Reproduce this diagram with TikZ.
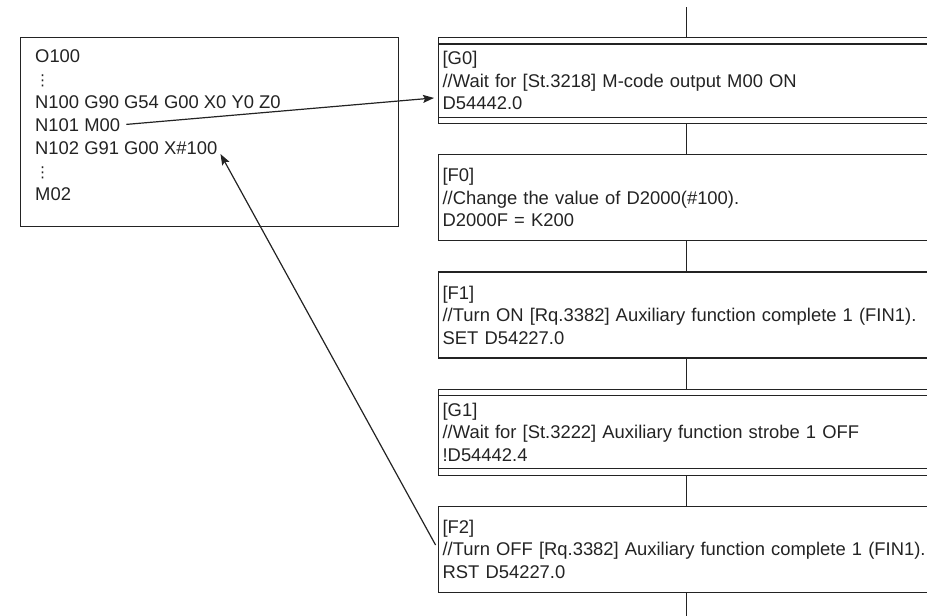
\documentclass[tikz,border=0pt]{standalone}
\usepackage{fontspec}
\setmainfont{Liberation Sans}
\newfontfamily\symfont{DejaVu Sans}
\usetikzlibrary{arrows.meta, positioning}
\definecolor{LineGrey}{RGB}{35, 35, 35}
\newcommand{\vdotsx}{{\symfont\fontsize{15}{15}\selectfont ⋮}}

\begin{document}
\begin{tikzpicture}[
        x = 1pt, y = -1pt,
        frame/.style = {draw = LineGrey, line width = 1.2pt},
        code/.style = {font = \fontsize{18.4}{22.5}\selectfont, inner xsep = 3pt, inner ysep = 1pt, anchor = base west, text = LineGrey},
        stepbox/.style = {frame, font = \fontsize{18.4}{22.5}\selectfont, text = LineGrey, align = left, text width = 488pt, inner xsep = 4pt, inner ysep = 0pt, minimum width = 496pt, minimum height = 86pt},
        arr/.style = {-{Stealth[length = 11pt, width = 8pt, inset = 2pt]}, line width = 1.2pt, LineGrey}
    ]
        \clip (0,0) rectangle (927,616);

        % NC program
        \node[frame, minimum width = 378pt, minimum height = 189pt, anchor = north west] (prog) at (20,37) {};
        \node[code] (o100) at (32,62) {O100};
        \node[code, below = 23pt of o100.base west, anchor = base west] (dots1) {\vdotsx};
        \node[code, below = 23pt of dots1.base west, anchor = base west] (n100) {N100 G90 G54 G00 X0 Y0 Z0};
        \node[code, below = 23pt of n100.base west, anchor = base west] (n101) {N101 M00};
        \node[code, below = 23pt of n101.base west, anchor = base west] (n102) {N102 G91 G00 X\#100};
        \node[code, below = 23pt of n102.base west, anchor = base west] (dots2) {\vdotsx};
        \node[code, below = 23pt of dots2.base west, anchor = base west] (m02) {M02};

        % steps
        \node[stepbox, anchor = north west] (g0) at (438,37) {
            [G0]
            \\
            //Wait for [St.3218] M-code output M00 ON
            \\
            D54442.0
        };
        \node[stepbox, below = 30pt of g0] (f0) {
            [F0]
            \\
            //Change the value of D2000(\#100).
            \\
            D2000F = K200
        };
        \node[stepbox, below = 30pt of f0] (f1) {
            [F1]
            \\
            \mbox{//Turn ON [Rq.3382] Auxiliary function complete 1 (FIN1).}
            \\
            SET D54227.0
        };
        \node[stepbox, below = 30pt of f1] (g1) {
            [G1]
            \\
            //Wait for [St.3222] Auxiliary function strobe 1 OFF
            \\
            !D54442.4
        };
        \node[stepbox, below = 30pt of g1] (f2) {
            [F2]
            \\
            \mbox{//Turn OFF [Rq.3382] Auxiliary function complete 1 (FIN1).}
            \\
            RST D54227.0
        };

        \foreach \s in {g0, g1} {
            \draw[frame] ([yshift = -7pt]\s.north west) -- ([yshift = -7pt]\s.north east);
            \draw[frame] ([yshift = 7pt]\s.south west) -- ([yshift = 7pt]\s.south east);
        }

        \coordinate (top) at ([yshift = 30pt]g0.north);
        \coordinate (bot) at ([yshift = -26pt]f2.south);
        \draw[frame] (top) -- (g0.north) (g0.south) -- (f0.north) (f0.south) -- (f1.north)
            (f1.south) -- (g1.north) (g1.south) -- (f2.north) (f2.south) -- (bot);

        \draw[arr, shorten <= 3pt, shorten >= 4pt] (n101.east) -- ([yshift = -17pt]g0.west);
        \draw[arr, shorten <= 5pt] (f2.west) -- (n102.base east);
    \end{tikzpicture}
\end{document}
